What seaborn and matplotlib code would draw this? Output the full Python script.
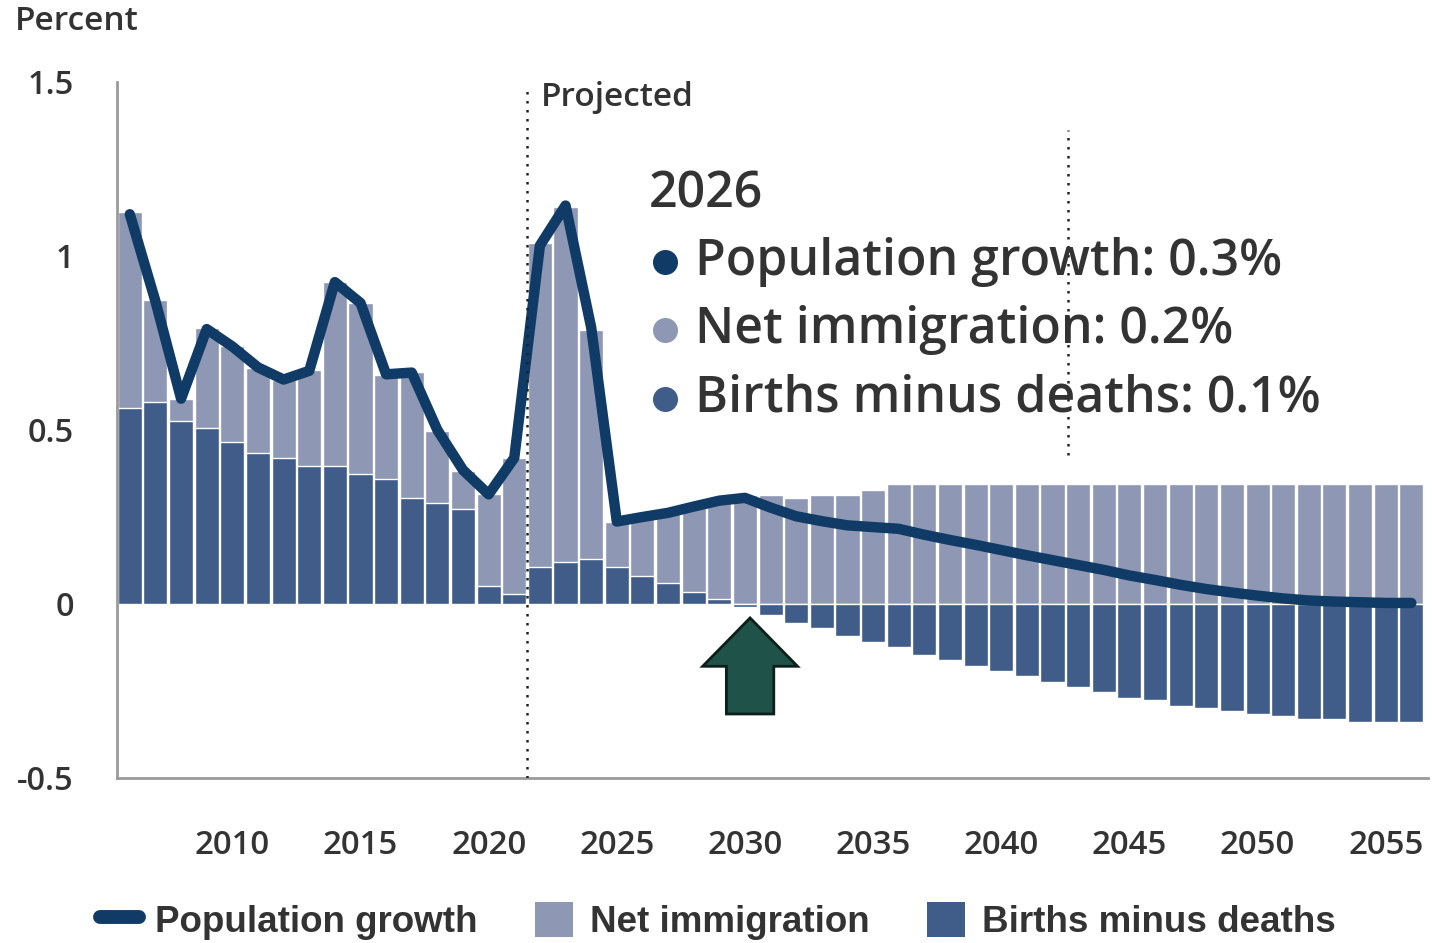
import numpy as np
import pandas as pd
import matplotlib
matplotlib.use("Agg")
import matplotlib.pyplot as plt
import seaborn as sns
from matplotlib.lines import Line2D
from matplotlib.patches import Patch, FancyArrow

# values (percent)
years = list(range(2006, 2057))

births_minus_deaths = [
    0.564, 0.581, 0.527, 0.505, 0.466, 0.435, 0.420, 0.397, 0.397, 0.374,
    0.359, 0.304, 0.289, 0.274, 0.052, 0.029, 0.105, 0.122, 0.129, 0.105,
    0.081, 0.059, 0.035, 0.014, -0.008, -0.032, -0.054, -0.070, -0.092, -0.108,
    -0.123, -0.147, -0.161, -0.177, -0.193, -0.207, -0.223, -0.238, -0.252, -0.269,
    -0.276, -0.292, -0.300, -0.307, -0.316, -0.322, -0.330, -0.330, -0.338, -0.338,
    -0.338,
]

net_immigration = [
    0.562, 0.293, 0.061, 0.289, 0.276, 0.242, 0.224, 0.275, 0.529, 0.492,
    0.299, 0.362, 0.208, 0.108, 0.263, 0.391, 0.931, 1.020, 0.658, 0.132,
    0.169, 0.206, 0.245, 0.285, 0.313, 0.313, 0.305, 0.313, 0.313, 0.328,
    0.344, 0.344, 0.344, 0.344, 0.344, 0.344, 0.344, 0.344, 0.344, 0.344,
    0.344, 0.344, 0.344, 0.344, 0.344, 0.344, 0.344, 0.344, 0.344, 0.344,
    0.344,
]

population_growth = [
    1.120, 0.870, 0.590, 0.790, 0.740, 0.680, 0.645, 0.670, 0.925, 0.865,
    0.660, 0.665, 0.500, 0.385, 0.315, 0.420, 1.030, 1.145, 0.795, 0.237,
    0.250, 0.262, 0.280, 0.297, 0.305, 0.277, 0.252, 0.238, 0.226, 0.221,
    0.216, 0.199, 0.184, 0.170, 0.155, 0.140, 0.126, 0.112, 0.098, 0.082,
    0.069, 0.055, 0.043, 0.033, 0.024, 0.016, 0.010, 0.007, 0.005, 0.003,
    0.003,
]

callout_year = "2026"
callout_lines = [
    ("Population growth: 0.3%", "pop"),
    ("Net immigration: 0.2%", "net"),
    ("Births minus deaths: 0.1%", "births"),
]

C_LINE = "#0f3b66"
C_NET = "#8e97b3"
C_BIRTHS = "#405d89"
C_TEXT = "#333333"
C_SPINE = "#9a9a9a"
colors = {"pop": C_LINE, "net": C_NET, "births": C_BIRTHS}

sns.set_style("white")
plt.rcParams["font.family"] = ["Open Sans", "Noto Sans", "DejaVu Sans"]

df = pd.DataFrame({
    "year": years,
    "births": births_minus_deaths,
    "net": net_immigration,
    "pop": population_growth,
})
# light bar reaches the top of the stack (sits on births when births are positive)
df["stack_top"] = df["net"] + df["births"].clip(lower=0)

W, H = 1434, 943
fig = plt.figure(figsize=(W / 100, H / 100), dpi=100)
ax = fig.add_axes([117 / W, 165 / H, (1428 - 117) / W, 696 / H])

sns.barplot(data=df, x="year", y="stack_top", native_scale=True, width=0.94,
            color=C_NET, saturation=1, errorbar=None, ax=ax, zorder=1)
sns.barplot(data=df, x="year", y="births", native_scale=True, width=0.94,
            color=C_BIRTHS, saturation=1, errorbar=None, ax=ax, zorder=1)
sns.lineplot(data=df, x="year", y="pop", color=C_LINE, lw=7.5, ax=ax,
             solid_capstyle="round", solid_joinstyle="round", zorder=3)

ax.set_xlim(2005.5, 2056.65)
ax.set_ylim(-0.5, 1.5)
ax.set_xlabel("")
ax.set_ylabel("")
ax.set_axisbelow(True)

ax.set_xticks(range(2010, 2056, 5))
ax.set_yticks([-0.5, 0, 0.5, 1, 1.5])
ax.set_yticklabels(["-0.5", "0", "0.5", "1", "1.5"])
ax.tick_params(axis="x", direction="in", length=13, width=1.3, color=C_SPINE,
               pad=36.5, labelsize=23.8, labelcolor=C_TEXT)
ax.tick_params(axis="y", direction="in", length=11, width=1.3, color=C_SPINE,
               pad=31, labelsize=23.5, labelcolor=C_TEXT)
for lab in ax.get_xticklabels() + ax.get_yticklabels():
    lab.set_fontweight("semibold")

for side in ["top", "right"]:
    ax.spines[side].set_visible(False)
for side in ["left", "bottom"]:
    ax.spines[side].set_color(C_SPINE)
    ax.spines[side].set_linewidth(2)

# projected divider
ax.axvline(2021.5, ymin=0, ymax=0.995, color="#222222", lw=1.8,
           linestyle=(0, (1, 2.6)), zorder=4)
ax.text(2022.05, 1.455, "Projected", fontsize=24, color=C_TEXT,
        fontweight="semibold", va="center", ha="left")
# hover marker line
ax.plot([2042.6, 2042.6], [0.428, 1.362], color="#222222", lw=1.8,
        linestyle=(0, (1, 2.6)), zorder=4)

# hover callout
ax.text(2026.25, 1.178, callout_year, fontsize=36, color=C_TEXT,
        fontweight="semibold", va="center", ha="left", zorder=5)
for i, (label, key) in enumerate(callout_lines):
    yv = 0.982 - i * 0.196
    ax.plot([2026.9], [yv], marker="o", ms=17, color=colors[key], zorder=5)
    ax.text(2028.05, yv, label, fontsize=36, color=C_TEXT,
            fontweight="semibold", va="center", ha="left", zorder=5)

# green arrow pointing at 2030
ax.add_patch(FancyArrow(2030.2, -0.316, 0, 0.276, width=1.85, head_width=3.7,
                        head_length=0.139, length_includes_head=True,
                        facecolor="#1f5249", edgecolor="#0c1f1a", lw=2, zorder=6))

fig.text(15 / W, 1 - 21 / H, "Percent", fontsize=24, color=C_TEXT,
         fontweight="semibold", va="center", ha="left")

handles = [
    Line2D([0], [0], color=C_LINE, lw=10, solid_capstyle="round"),
    Patch(facecolor=C_NET, edgecolor="none"),
    Patch(facecolor=C_BIRTHS, edgecolor="none"),
]
fig.legend(handles, ["Population growth", "Net immigration", "Births minus deaths"],
           loc="center left", bbox_to_anchor=(100 / W, 22 / H), ncol=3,
           frameon=False, borderpad=0, borderaxespad=0,
           handlelength=1.05, handleheight=1.1, handletextpad=0.45,
           columnspacing=1.55,
           prop={"family": ["Liberation Sans", "DejaVu Sans"], "weight": "bold",
                 "size": 26.5},
           labelcolor=C_TEXT)

fig.savefig("out.png", dpi=100)
